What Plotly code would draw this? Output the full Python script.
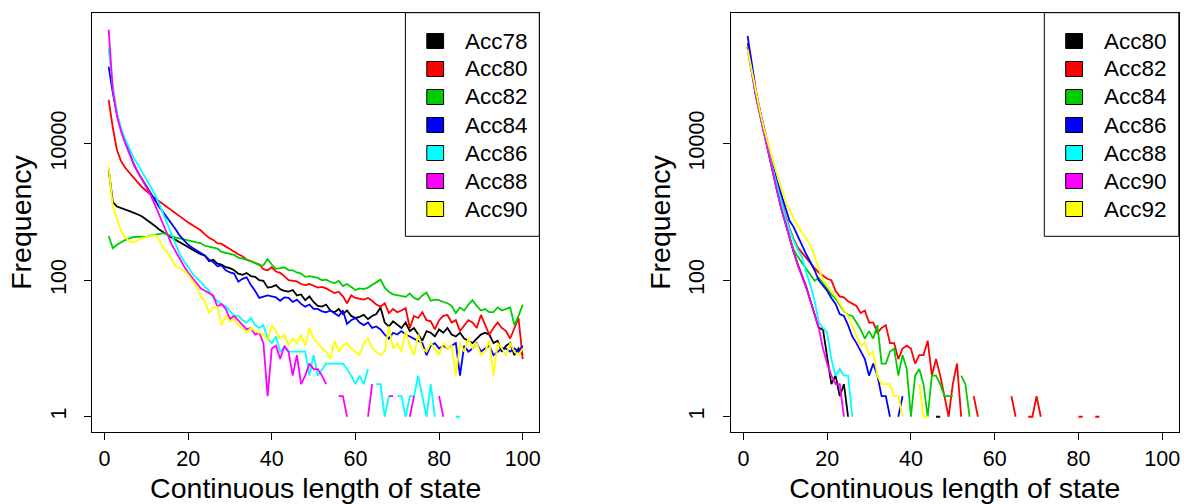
import plotly.graph_objects as go

# ---------------- data ----------------
x_len = list(range(1, 101))

left_names = ["Acc78", "Acc80", "Acc82", "Acc84", "Acc86", "Acc88", "Acc90"]
right_names = ["Acc80", "Acc82", "Acc84", "Acc86", "Acc88", "Acc90", "Acc92"]
colors = ["#000000", "#FF0000", "#00CD00", "#0000FF", "#00FFFF", "#FF00FF", "#FFFF00"]

# left panel (counts; 0 = no occurrence -> not drawn on log axis)
left_acc78 = [4200, 1400, 1200, 1130, 1080, 1030, 980, 920, 860, 780,
              700, 630, 560, 510, 460, 420, 390, 360, 330, 310,
              280, 260, 240, 230, 190, 200, 175, 170, 155, 150,
              140, 125, 120, 128, 115, 112, 100, 98, 78, 80,
              85, 74, 70, 68, 72, 60, 62, 51, 58, 48,
              42, 41, 44, 36, 34, 38, 32, 36, 30, 28,
              29, 31, 27, 30, 32, 40, 24, 21, 25, 22,
              20, 24, 18, 20, 16, 13, 18, 17, 15, 19,
              17, 20, 16, 15, 17, 14, 13, 12, 14, 16,
              17, 16, 12, 13, 9, 11, 12, 8, 10, 8]
left_acc80 = [44000, 17000, 8000, 5500, 4400, 3700, 3200, 2700, 2300, 2000,
              1800, 1600, 1450, 1300, 1180, 1080, 980, 880, 780, 700,
              640, 580, 540, 470, 420, 390, 350, 340, 310, 280,
              260, 240, 225, 200, 190, 178, 170, 145, 140, 155,
              134, 128, 115, 100, 98, 96, 88, 85, 88, 82,
              78, 80, 76, 70, 65, 68, 58, 46, 60, 55,
              54, 52, 55, 50, 44, 41, 46, 33, 38, 34,
              36, 39, 20, 30, 28, 34, 26, 25, 19, 26,
              30, 31, 24, 26, 18, 22, 26, 24, 20, 31,
              22, 16, 20, 24, 20, 18, 14, 20, 28, 7]
left_acc82 = [440, 295, 330, 360, 390, 410, 430, 435, 435, 430,
              450, 460, 480, 490, 470, 440, 420, 410, 395, 380,
              370, 360, 350, 320, 310, 300, 290, 260, 250, 240,
              235, 215, 210, 200, 190, 180, 167, 165, 204, 170,
              147, 150, 155, 141, 140, 130, 125, 112, 115, 112,
              108, 100, 102, 95, 90, 98, 82, 88, 80, 72,
              76, 74, 78, 85, 92, 102, 78, 68, 62, 60,
              58, 57, 64, 55, 52, 60, 66, 50, 52, 51,
              48, 46, 42, 33, 40, 36, 44, 51, 42, 36,
              38, 34, 34, 40, 36, 38, 40, 22, 30, 44]
left_acc84 = [135000, 55000, 27000, 15500, 10500, 7000, 5000, 3800, 3000, 2400,
              1900, 1500, 1200, 1000, 830, 700, 560, 450, 380, 330,
              300, 275, 250, 230, 200, 185, 160, 165, 140, 130,
              125, 95, 105, 110, 85, 70, 55, 58, 60, 58,
              56, 50, 56, 55, 48, 52, 45, 41, 44, 38,
              38, 35, 34, 36, 33, 30, 36, 23, 26, 28,
              24, 22, 24, 20, 21, 19, 16, 14, 17, 16,
              18, 16, 15, 14, 13, 12, 8, 11, 12, 10,
              11, 10, 11, 12, 4, 11, 9, 10, 12, 9,
              10, 11, 8, 9, 10, 10, 9, 10, 9, 11]
left_acc86 = [250000, 70000, 28000, 16500, 11500, 8200, 6200, 4900, 3800, 3000,
              2400, 1850, 1350, 960, 680, 480, 340, 240, 190, 158,
              125, 110, 95, 80, 70, 55, 50, 44, 42, 35,
              30, 30, 26, 24, 28, 22, 20, 22, 14, 12,
              15, 9, 10, 9, 9, 9, 9, 9, 4, 8,
              4, 5, 6, 6, 6, 6, 6, 5, 4, 3,
              4, 3, 5, 0, 3, 3, 1, 2, 0, 2,
              2, 1, 2, 2, 4, 2, 1, 3, 1, 0,
              0, 0, 0, 1, 1, 0, 0, 0, 0, 0,
              0, 0, 0, 0, 0, 0, 0, 0, 0, 0]
left_acc88 = [470000, 60000, 25000, 15000, 10000, 7000, 5000, 3800, 3000, 2350,
              1800, 1300, 950, 690, 480, 340, 260, 200, 160, 130,
              110, 90, 76, 70, 65, 60, 41, 45, 38, 27,
              30, 26, 22, 19, 20, 16, 17, 12, 2, 10,
              11, 7, 11, 9, 4, 8, 3, 4, 6, 5,
              5, 4, 3, 0, 0, 2, 2, 1, 0, 0,
              0, 0, 1, 3, 0, 0, 0, 2, 2, 0,
              0, 0, 1, 2, 0, 0, 0, 0, 0, 2,
              1, 0, 0, 0, 0, 0, 0, 0, 0, 0,
              0, 0, 0, 0, 0, 0, 0, 0, 0, 0]
left_acc90 = [4600, 1200, 800, 520, 420, 370, 360, 390, 415, 430,
              450, 460, 400, 300, 260, 200, 160, 150, 138, 120,
              100, 80, 57, 50, 33, 40, 41, 22, 30, 25,
              27, 22, 20, 17, 20, 18, 17, 16, 13, 22,
              18, 14, 16, 11, 14, 12, 16, 11, 20, 14,
              12, 10, 9, 7, 13, 9, 11, 12, 10, 9,
              8, 12, 14, 10, 9, 8, 9, 21, 10, 12,
              9, 18, 11, 8, 16, 10, 9, 12, 10, 8,
              12, 10, 11, 4, 12, 9, 14, 10, 12, 8,
              9, 13, 4, 12, 10, 8, 12, 9, 8, 10]

# right panel
right_acc80 = [260000, 115000, 50000, 26000, 13500, 7000, 3800, 2100, 1150, 680,
               420, 260, 170, 120, 80, 50, 32, 20, 19, 8,
               3, 4, 2, 3, 1, 0, 0, 0, 0, 0,
               0, 0, 0, 0, 0, 0, 0, 0, 0, 0,
               0, 0, 0, 0, 0, 1, 1, 0, 0, 0,
               0, 0, 0, 0, 0, 0, 0, 0, 0, 0,
               0, 0, 0, 0, 0, 0, 0, 0, 0, 0,
               0, 0, 0, 0, 0, 0, 0, 0, 0, 0,
               0, 0, 0, 0, 0, 0, 0, 0, 0, 0,
               0, 0, 0, 0, 0, 0, 0, 0, 0, 0]
right_acc82 = [300000, 125000, 55000, 28000, 15000, 8000, 4600, 2600, 1500, 900,
               580, 400, 300, 250, 210, 180, 150, 130, 115, 105,
               100, 70, 58, 56, 49, 45, 42, 33, 36, 24,
               24, 17, 20, 22, 12, 12, 7, 10, 11, 10,
               6, 8, 8, 13, 4, 7, 4, 2, 1, 3,
               6, 1, 0, 0, 2, 1, 0, 0, 0, 0,
               0, 0, 0, 2, 1, 0, 0, 1, 1, 2,
               1, 0, 0, 0, 0, 0, 0, 0, 0, 1,
               1, 0, 0, 1, 1, 0, 0, 0, 0, 0,
               0, 0, 0, 0, 0, 0, 0, 0, 0, 0]
right_acc84 = [270000, 115000, 50000, 26000, 13500, 7000, 3900, 2200, 1150, 700,
               430, 280, 220, 180, 150, 120, 98, 108, 90, 76,
               62, 54, 44, 35, 31, 30, 24, 19, 14, 18,
               14, 22, 6, 6, 9, 10, 4, 8, 5, 1,
               4, 5, 3, 1, 4, 4, 3, 2, 2, 2,
               0, 4, 3, 1, 0, 0, 0, 0, 0, 0,
               0, 0, 0, 0, 0, 0, 0, 0, 0, 0,
               0, 0, 0, 0, 0, 0, 0, 0, 0, 0,
               0, 0, 0, 0, 0, 0, 0, 0, 0, 0,
               0, 0, 0, 0, 0, 0, 0, 0, 0, 0]
right_acc86 = [380000, 140000, 60000, 30000, 16000, 8800, 5000, 2900, 1800, 1150,
               750, 600, 440, 340, 240, 185, 140, 100, 85, 70,
               55, 45, 32, 30, 22, 15, 12, 9, 7, 4,
               6, 4, 2, 2, 1, 0, 1, 2, 0, 0,
               0, 0, 0, 0, 0, 0, 0, 0, 0, 0,
               0, 0, 0, 0, 0, 0, 0, 0, 0, 0,
               0, 0, 0, 0, 0, 0, 0, 0, 0, 0,
               0, 0, 0, 0, 0, 0, 0, 0, 0, 0,
               0, 0, 0, 0, 0, 0, 0, 0, 0, 0,
               0, 0, 0, 0, 0, 0, 0, 0, 0, 0]
right_acc88 = [230000, 110000, 50000, 26000, 14000, 7500, 4300, 2500, 1450, 850,
               560, 380, 280, 220, 130, 85, 50, 24, 20, 17,
               7, 4, 5, 4, 4, 1, 0, 0, 0, 0,
               0, 0, 0, 0, 0, 0, 0, 0, 0, 0,
               0, 0, 0, 0, 0, 0, 0, 0, 0, 0,
               0, 0, 0, 0, 0, 0, 0, 0, 0, 0,
               0, 0, 0, 0, 0, 0, 0, 0, 0, 0,
               0, 0, 0, 0, 0, 0, 0, 0, 0, 0,
               0, 0, 0, 0, 0, 0, 0, 0, 0, 0,
               0, 0, 0, 0, 0, 0, 0, 0, 0, 0]
right_acc90 = [250000, 112000, 50000, 26000, 13500, 7000, 3800, 2100, 1150, 680,
               420, 260, 165, 115, 78, 50, 32, 20, 10, 6,
               4, 3, 3, 1, 0, 0, 0, 0, 0, 0,
               0, 0, 0, 0, 0, 0, 0, 0, 0, 0,
               0, 0, 0, 0, 0, 0, 0, 0, 0, 0,
               0, 0, 0, 0, 0, 0, 0, 0, 0, 0,
               0, 0, 0, 0, 0, 0, 0, 0, 0, 0,
               0, 0, 0, 0, 0, 0, 0, 0, 0, 0,
               0, 0, 0, 0, 0, 0, 0, 0, 0, 0,
               0, 0, 0, 0, 0, 0, 0, 0, 0, 0]
right_acc92 = [240000, 115000, 54000, 29000, 16000, 9200, 5800, 3600, 2300, 1500,
               1050, 800, 620, 500, 400, 330, 220, 150, 100, 85,
               68, 58, 46, 36, 30, 21, 15, 11, 12, 8,
               9, 4, 3, 3, 3, 2, 2, 1, 0, 0,
               0, 3, 1, 1, 0, 0, 0, 0, 0, 0,
               0, 0, 0, 0, 0, 0, 0, 0, 0, 0,
               0, 0, 0, 0, 0, 0, 0, 0, 0, 0,
               0, 0, 0, 0, 0, 0, 0, 0, 0, 0,
               0, 0, 0, 0, 0, 0, 0, 0, 0, 0,
               0, 0, 0, 0, 0, 0, 0, 0, 0, 0]

left_series = [left_acc78, left_acc80, left_acc82, left_acc84, left_acc86, left_acc88, left_acc90]
right_series = [right_acc80, right_acc82, right_acc84, right_acc86, right_acc88, right_acc90, right_acc92]

x_ticks = [0, 20, 40, 60, 80, 100]
y_ticks = [1, 100, 10000]
y_ticktext = ["1", "100", "10000"]

# ---------------- figure ----------------
W, H = 1184, 504
FONT = "Liberation Sans, Arial, Helvetica, sans-serif"

fig = go.Figure()


def nz(vals):
    return [v if v > 0 else None for v in vals]


for i, (name, vals) in enumerate(zip(left_names, left_series)):
    fig.add_trace(go.Scatter(x=x_len, y=nz(vals), mode="lines", name=name,
                             line=dict(color=colors[i], width=1.8),
                             xaxis="x", yaxis="y", showlegend=False))
for i, (name, vals) in enumerate(zip(right_names, right_series)):
    fig.add_trace(go.Scatter(x=x_len, y=nz(vals), mode="lines", name=name,
                             line=dict(color=colors[i], width=1.8),
                             xaxis="x2", yaxis="y2", showlegend=False))

# plot boxes in pixels
left_box = (92.1, 539.3)
right_box = (731.0, 1178.8)
top_px, bot_px = 12.7, 432.3
ydom = [1 - bot_px / H, 1 - top_px / H]

ax_common = dict(showline=True, linecolor="black", linewidth=1, mirror=True,
                 ticks="outside", ticklen=7, tickwidth=1, tickcolor="black",
                 showgrid=False, zeroline=False,
                 tickfont=dict(size=21.5, color="black", family=FONT))

xcfg = dict(ax_common, range=[-2.96, 103.96], tickvals=x_ticks,
            ticklabelstandoff=0,
            title=dict(text="Continuous length of state",
                       font=dict(size=28.5, color="black", family=FONT), standoff=9))
ycfg = dict(ax_common, type="log", range=[-0.228, 5.92], tickvals=y_ticks,
            ticktext=y_ticktext, tickangle=-90, domain=ydom,
            ticklabelstandoff=10,
            title=dict(text="Frequency",
                       font=dict(size=28.5, color="black", family=FONT), standoff=6))

fig.update_layout(
    width=W, height=H, autosize=False,
    margin=dict(l=0, r=0, t=0, b=0, pad=0),
    paper_bgcolor="white", plot_bgcolor="white",
    font=dict(family=FONT, color="black"),
    showlegend=False,
    xaxis=dict(xcfg, domain=[left_box[0] / W, left_box[1] / W], anchor="y"),
    yaxis=dict(ycfg, anchor="x"),
    xaxis2=dict(xcfg, domain=[right_box[0] / W, right_box[1] / W], anchor="y2"),
    yaxis2=dict(ycfg, anchor="x2"),
)

# legends (drawn in pixel layout, converted to paper coords)
shapes = []
annotations = []


def px(xp):
    return xp / W


def py(yp):
    return 1 - yp / H


for (bx0, bx1), names in ((left_box, left_names), (right_box, right_names)):
    lx0 = bx0 + 313.3
    shapes.append(dict(type="rect", xref="paper", yref="paper",
                       x0=px(lx0), x1=px(bx1), y0=py(236.3), y1=py(top_px),
                       line=dict(color="black", width=1), fillcolor="white", layer="above"))
    for i, name in enumerate(names):
        yc = 41 + 28 * i
        shapes.append(dict(type="rect", xref="paper", yref="paper",
                           x0=px(lx0 + 21.4), x1=px(lx0 + 38.2),
                           y0=py(yc + 7.5), y1=py(yc - 7.5),
                           line=dict(color="black", width=1), fillcolor=colors[i], layer="above"))
        annotations.append(dict(xref="paper", yref="paper", x=px(lx0 + 57.5), y=py(yc),
                                xanchor="left", yanchor="middle", showarrow=False,
                                text=name, font=dict(size=22.5, color="black", family=FONT)))

fig.update_layout(shapes=shapes, annotations=annotations)

fig.write_html("out.html")
